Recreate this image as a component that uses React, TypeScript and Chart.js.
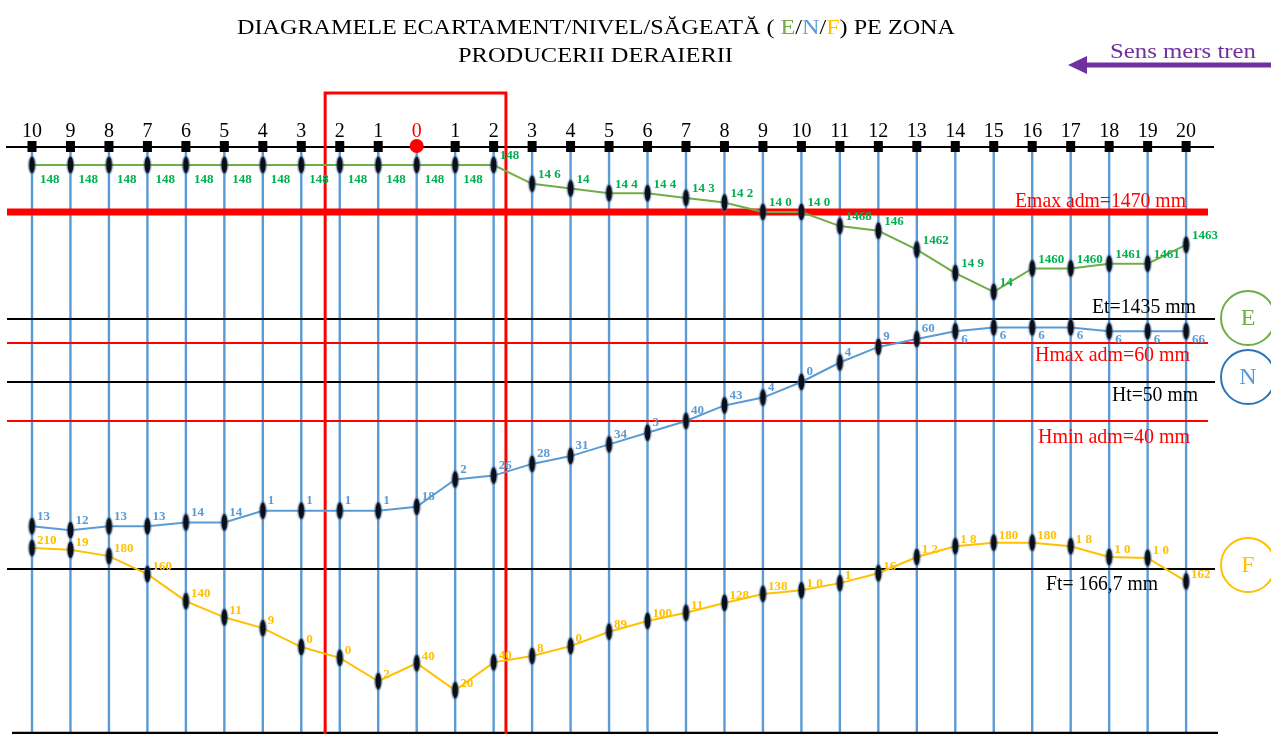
import React, { useEffect, useRef } from 'react';
import { Chart, registerables } from 'chart.js';

Chart.register(...registerables);

// ---------------- DATA ----------------
const stationLabels = ['10','9','8','7','6','5','4','3','2','1','0','1','2','3','4','5','6','7','8','9','10','11','12','13','14','15','16','17','18','19','20'];
const derailmentStationIndex = 10; // station "0"
const derailmentZone = [7.62, 12.32]; // station-index units

// Ecartament (E), mm
const gaugeE = [1480,1480,1480,1480,1480,1480,1480,1480,1480,1480,1480,1480,1480,1476,1475,1474,1474,1473,1472,1470,1470,1467,1466,1462,1457,1453,1458,1458,1459,1459,1463];
const gaugeLabels = ['148','148','148','148','148','148','148','148','148','148','148','148','148','14 6','14','14 4','14 4','14 3','14 2','14 0','14 0','1468','146','1462','14 9','14','1460','1460','1461','1461','1463'];

// Nivel (N), mm
const levelN = [13,12,13,13,14,14,17,17,17,17,18,25,26,29,31,34,37,40,44,46,50,55,59,61,63,64,64,64,63,63,63];
const levelLabels = ['13','12','13','13','14','14','1','1','1','1','18','2','26','28','31','34','3','40','43','4','0','4','9','60','6','6','6','6','6','6','66'];

// Săgeată (F), mm
const sagF = [190,188,181,161,131,113,101,80,68,42,62,32,63,70,81,97,109,118,129,139,143,151,162,180,192,196,196,192,180,179,153];
const sagLabels = ['210','19','180','160','140','11','9','0','0','2','40','20','40','8','0','89','100','11','128','138','1 0','1','16','1 2','1 8','180','180','1 8','1 0','1 0','162'];

// Reference values
const E_MAX = 1470;
const E_NOMINAL = 1435;
const H_MAX = 60;
const H_NOMINAL = 50;
const H_MIN = 40;
const F_NOMINAL = 166.7;

// ---------------- LAYOUT / STYLE ----------------
const W = 1271;
const H = 734;
const GREEN = '#70AD47';
const GREEN_TXT = '#00B050';
const BLUE = '#5B9BD5';
const BLUE_DARK = '#2E75B6';
const GOLD = '#FFC000';
const RED = '#FF0000';
const PURPLE = '#7030A0';
const SERIF = '"Liberation Serif", "Times New Roman", serif';

// linear axis range from an anchor value/pixel and a pixel-per-unit factor (pixels downward)
function yRange(anchorValue: number, anchorPx: number, pxPerUnit: number) {
  return { min: anchorValue - (H - anchorPx) / pxPerUnit, max: anchorValue + anchorPx / pxPerUnit };
}
const xFirstPx = 32, xStep = 38.47;
const xRange = { min: -xFirstPx / xStep, max: (W - xFirstPx) / xStep };
const eRange = yRange(E_MAX, 212, 4.7);
const nRange = yRange(H_MIN, 421, 3.9);
const fRange = yRange(F_NOMINAL, 569, 0.9);

const TRACK_Y = 147;
const BOTTOM_Y = 733;
const E_PANEL_Y = 319; // Et separator line
const LINE_LEFT = 7;

function makeDot(): HTMLCanvasElement {
  const c = document.createElement('canvas');
  c.width = 11; c.height = 24;
  const g = c.getContext('2d')!;
  g.fillStyle = 'rgba(70,120,170,0.45)';
  g.beginPath(); g.ellipse(5.5, 12, 4.3, 10, 0, 0, Math.PI * 2); g.fill();
  g.fillStyle = '#0b0f1a';
  g.beginPath(); g.ellipse(5.5, 12, 3, 8.2, 0, 0, Math.PI * 2); g.fill();
  return c;
}

function fitParts(ctx: CanvasRenderingContext2D, parts: [string, string][], left: number, baseline: number, targetW: number, font: string) {
  ctx.save();
  ctx.font = font;
  ctx.textAlign = 'left';
  ctx.textBaseline = 'alphabetic';
  const w = parts.reduce((s, p) => s + ctx.measureText(p[0]).width, 0);
  ctx.translate(left, baseline);
  ctx.scale(targetW / w, 1);
  let cx = 0;
  for (const [t, c] of parts) {
    ctx.fillStyle = c;
    ctx.fillText(t, cx, 0);
    cx += ctx.measureText(t).width;
  }
  ctx.restore();
}

function hline(ctx: CanvasRenderingContext2D, y: number, x1: number, x2: number, color: string, width: number) {
  ctx.save();
  ctx.strokeStyle = color; ctx.lineWidth = width;
  ctx.beginPath(); ctx.moveTo(x1, y); ctx.lineTo(x2, y); ctx.stroke();
  ctx.restore();
}

const diagramPlugin = {
  id: 'diagram',
  beforeDatasetsDraw(chart: any) {
    const ctx: CanvasRenderingContext2D = chart.ctx;
    const x = chart.scales.x, yE = chart.scales.yE, yN = chart.scales.yN, yF = chart.scales.yF;
    // station verticals
    ctx.save();
    stationLabels.forEach((_, i) => {
      const X = x.getPixelForValue(i);
      ctx.strokeStyle = BLUE; ctx.lineWidth = 2.4;
      ctx.beginPath(); ctx.moveTo(X, TRACK_Y); ctx.lineTo(X, BOTTOM_Y); ctx.stroke();
    });
    ctx.restore();
    // horizontal reference lines
    hline(ctx, TRACK_Y, 6, 1214, '#000', 2);
    hline(ctx, yE.getPixelForValue(E_MAX), LINE_LEFT, 1208, RED, 7);
    hline(ctx, E_PANEL_Y, LINE_LEFT, 1215, '#000', 2);
    hline(ctx, yN.getPixelForValue(H_MAX), LINE_LEFT, 1208, RED, 2);
    hline(ctx, yN.getPixelForValue(H_NOMINAL), LINE_LEFT, 1215, '#000', 2);
    hline(ctx, yN.getPixelForValue(H_MIN), LINE_LEFT, 1208, RED, 2);
    hline(ctx, yF.getPixelForValue(F_NOMINAL), LINE_LEFT, 1215, '#000', 2);
    hline(ctx, BOTTOM_Y, 12, 1218, '#000', 2.5);
    // station markers
    ctx.save();
    stationLabels.forEach((_, i) => {
      const X = x.getPixelForValue(i);
      if (i === derailmentStationIndex) {
        ctx.fillStyle = RED;
        ctx.beginPath(); ctx.arc(X, TRACK_Y - 1, 7, 0, Math.PI * 2); ctx.fill();
      } else {
        ctx.fillStyle = '#000';
        ctx.fillRect(X - 4.5, TRACK_Y - 6, 9, 11);
      }
    });
    ctx.restore();
    // derailment zone rectangle
    const zx1 = x.getPixelForValue(derailmentZone[0]);
    const zx2 = x.getPixelForValue(derailmentZone[1]);
    ctx.save();
    ctx.strokeStyle = RED; ctx.lineWidth = 3;
    ctx.beginPath();
    ctx.moveTo(zx1, H + 5); ctx.lineTo(zx1, 93); ctx.lineTo(zx2, 93); ctx.lineTo(zx2, H + 5);
    ctx.stroke();
    ctx.restore();
  },
  afterDatasetsDraw(chart: any) {
    const ctx: CanvasRenderingContext2D = chart.ctx;
    const x = chart.scales.x;
    // station numbers
    ctx.save();
    ctx.font = `20px ${SERIF}`;
    ctx.textAlign = 'center';
    ctx.textBaseline = 'alphabetic';
    stationLabels.forEach((s, i) => {
      ctx.fillStyle = i === derailmentStationIndex ? RED : '#000';
      ctx.fillText(s, x.getPixelForValue(i), 137);
    });
    ctx.restore();
    // value labels
    const series: [number, string[], string][] = [[0, gaugeLabels, GREEN_TXT], [1, levelLabels, BLUE], [2, sagLabels, GOLD]];
    ctx.save();
    ctx.font = `bold 13px ${SERIF}`;
    ctx.textAlign = 'left';
    ctx.textBaseline = 'middle';
    for (const [di, labels, color] of series) {
      const meta = chart.getDatasetMeta(di);
      ctx.fillStyle = color;
      meta.data.forEach((pt: any, i: number) => {
        let dx = 5, dy = -9;
        if (di === 0) { if (i < 12) { dx = 8; dy = 15; } else { dx = 6; dy = -9; } }
        if (di === 1) { if (i >= 24) { dx = 6; dy = 8; } else { dx = 5; dy = -10; } }
        if (di === 2) { dx = 5; dy = -7; }
        ctx.fillText(labels[i], pt.x + dx, pt.y + dy);
      });
    }
    ctx.restore();
  },
  afterDraw(chart: any) {
    const ctx: CanvasRenderingContext2D = chart.ctx;
    const yE = chart.scales.yE, yN = chart.scales.yN, yF = chart.scales.yF;
    // title
    fitParts(ctx, [['DIAGRAMELE ECARTAMENT/NIVEL/SĂGEATĂ ( ', '#000'], ['E', GREEN], ['/', '#000'], ['N', BLUE], ['/', '#000'], ['F', GOLD], [') PE ZONA', '#000']], 237, 34, 718, `22px ${SERIF}`);
    fitParts(ctx, [['PRODUCERII DERAIERII', '#000']], 458, 62, 275, `22px ${SERIF}`);
    // direction
    fitParts(ctx, [['Sens mers tren', PURPLE]], 1110, 58, 146, `22px ${SERIF}`);
    ctx.save();
    ctx.strokeStyle = PURPLE; ctx.fillStyle = PURPLE; ctx.lineWidth = 5;
    ctx.beginPath(); ctx.moveTo(W, 65); ctx.lineTo(1082, 65); ctx.stroke();
    ctx.beginPath(); ctx.moveTo(1068, 65); ctx.lineTo(1087, 56); ctx.lineTo(1087, 74); ctx.closePath(); ctx.fill();
    ctx.restore();
    // reference texts
    const f = `21px ${SERIF}`;
    fitParts(ctx, [['Emax adm=' + E_MAX + ' mm', RED]], 1015, yE.getPixelForValue(E_MAX) - 5, 171, f);
    fitParts(ctx, [['Et=' + E_NOMINAL + ' mm', '#000']], 1092, E_PANEL_Y - 6, 104, f);
    fitParts(ctx, [['Hmax adm=' + H_MAX + ' mm', RED]], 1035, yN.getPixelForValue(H_MAX) + 18, 155, f);
    fitParts(ctx, [['Ht=' + H_NOMINAL + ' mm', '#000']], 1112, yN.getPixelForValue(H_NOMINAL) + 19, 86, f);
    fitParts(ctx, [['Hmin adm=' + H_MIN + ' mm', RED]], 1038, yN.getPixelForValue(H_MIN) + 22, 152, f);
    fitParts(ctx, [['Ft= ' + String(F_NOMINAL).replace('.', ',') + ' mm', '#000']], 1046, yF.getPixelForValue(F_NOMINAL) + 21, 112, f);
    // panel circles
    const circles: [string, number, string, string][] = [['E', 318, GREEN, GREEN], ['N', 377, BLUE_DARK, BLUE], ['F', 565, GOLD, GOLD]];
    ctx.save();
    for (const [t, cy, stroke, fill] of circles) {
      ctx.strokeStyle = stroke; ctx.lineWidth = 2;
      ctx.beginPath(); ctx.arc(1248, cy, 27, 0, Math.PI * 2); ctx.stroke();
      ctx.fillStyle = fill; ctx.font = `24px ${SERIF}`;
      ctx.textAlign = 'center'; ctx.textBaseline = 'middle';
      ctx.fillText(t, 1248, cy + 1);
    }
    ctx.restore();
  },
};

export default function App() {
  const ref = useRef<HTMLCanvasElement>(null);
  useEffect(() => {
    document.body.style.margin = '0';
    const canvas = ref.current!;
    const dot = makeDot();
    const toXY = (arr: number[]) => arr.map((v, i) => ({ x: i, y: v }));
    const common = { pointStyle: dot as any, pointRadius: 6, borderWidth: 2, fill: false, tension: 0 };
    const chart = new Chart(canvas, {
      type: 'line',
      data: {
        datasets: [
          { label: 'E', data: toXY(gaugeE), yAxisID: 'yE', borderColor: GREEN, ...common },
          { label: 'N', data: toXY(levelN), yAxisID: 'yN', borderColor: BLUE, ...common },
          { label: 'F', data: toXY(sagF), yAxisID: 'yF', borderColor: GOLD, ...common },
        ],
      },
      options: {
        animation: false,
        responsive: false,
        devicePixelRatio: 1,
        layout: { padding: 0, autoPadding: false },
        plugins: { legend: { display: false }, tooltip: { enabled: false }, title: { display: false } },
        scales: {
          x: { type: 'linear', min: xRange.min, max: xRange.max, display: false },
          yE: { type: 'linear', min: eRange.min, max: eRange.max, display: false },
          yN: { type: 'linear', min: nRange.min, max: nRange.max, display: false },
          yF: { type: 'linear', min: fRange.min, max: fRange.max, display: false },
        },
      },
      plugins: [diagramPlugin],
    });
    return () => chart.destroy();
  }, []);
  return <canvas ref={ref} width={W} height={H} style={{ display: 'block', background: '#fff' }} />;
}
